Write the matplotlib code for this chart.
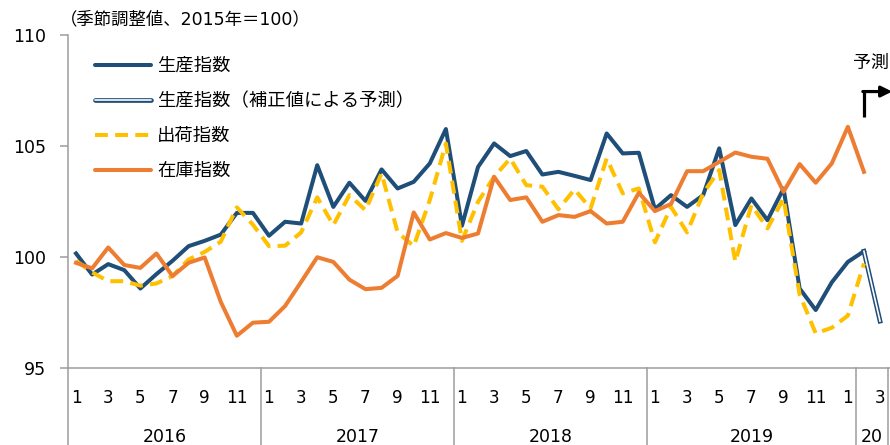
import numpy as np
import matplotlib
matplotlib.use('Agg')
import matplotlib.pyplot as plt
from matplotlib.lines import Line2D

plt.rcParams['font.family'] = ['DejaVu Sans', 'Noto Sans CJK JP']

# ---- data (monthly, Jan 2016 - Feb 2020) ----
production = [100.15, 99.2, 99.67, 99.4, 98.57, 99.22, 99.82, 100.48, 100.72, 101.0, 101.98, 101.98,
              100.95, 101.58, 101.5, 104.13, 102.25, 103.34, 102.52, 103.94, 103.08, 103.38, 104.21, 105.76,
              101.4, 104.05, 105.11, 104.54, 104.77, 103.71, 103.83, 103.65, 103.46, 105.56, 104.66, 104.69,
              102.15, 102.78, 102.25, 102.78, 104.89, 101.43, 102.63, 101.65, 103.08, 98.57, 97.6, 98.85,
              99.77, 100.25]
production_forecast = [100.25, 97.1]   # Feb 2020 -> Mar 2020 (forecast)
shipments = [99.82, 99.3, 98.9, 98.9, 98.7, 98.8, 99.13, 99.88, 100.22, 100.68, 102.23, 101.45,
             100.48, 100.5, 101.1, 102.68, 101.43, 102.78, 102.1, 103.76, 101.1, 100.48, 102.56, 105.11,
             100.72, 102.48, 103.61, 104.43, 103.23, 103.16, 102.14, 103.04, 102.18, 104.43, 102.86, 103.08,
             100.65, 102.25, 101.1, 102.86, 103.91, 99.78, 102.33, 101.28, 102.63, 98.3, 96.55, 96.8,
             97.35, 99.7]
inventory = [99.73, 99.48, 100.42, 99.63, 99.5, 100.15, 99.13, 99.73, 99.97, 97.97, 96.44, 97.03,
             97.07, 97.78, 98.87, 99.98, 99.77, 98.97, 98.54, 98.6, 99.14, 102.0, 100.78, 101.07,
             100.85, 101.05, 103.61, 102.56, 102.68, 101.58, 101.88, 101.8, 102.06, 101.5, 101.58, 102.89,
             102.06, 102.38, 103.86, 103.86, 104.28, 104.7, 104.51, 104.42, 102.93, 104.18, 103.34, 104.21,
             105.86, 103.83]
month_labels = ['1', '3', '5', '7', '9', '11'] * 4 + ['1', '3']
year_labels = ['2016', '2017', '2018', '2019', '20']
year_group_sizes = [12, 12, 12, 13, 2]
series_labels = ['生産指数', '生産指数（補正値による予測）', '出荷指数', '在庫指数']
unit_label = '（季節調整値、2015年＝100）'
forecast_label = '予測'

BLUE = '#1F4E79'
YELLOW = '#FFC000'
ORANGE = '#ED7D31'
GREY = '#9C9C9C'

W, H = 890, 445
fig = plt.figure(figsize=(W / 100, H / 100), dpi=100)
ax_left, ax_top, ax_bottom = 68, 35, 367.7
ax = fig.add_axes([ax_left / W, (H - ax_bottom) / H, 1 - ax_left / W, (ax_bottom - ax_top) / H])

x = np.arange(len(production))
xf = np.arange(len(production) - 1, len(production) - 1 + len(production_forecast))

ax.plot(x, production, color=BLUE, lw=2.9, zorder=3)
ax.plot(xf, production_forecast, color=BLUE, lw=3.4, zorder=3.5)
ax.plot(xf, production_forecast, color='white', lw=1.2, zorder=3.6)
ax.plot(x, shipments, color=YELLOW, lw=2.9, ls=(0, (3.2, 1.8)), zorder=4)
ax.plot(x, inventory, color=ORANGE, lw=2.9, zorder=5)

ax.set_xlim(-0.5, 50.62)
ax.set_ylim(95, 110)
ax.set_yticks([95, 100, 105, 110])
ax.set_xticks([])
for s in ['top', 'right']:
    ax.spines[s].set_visible(False)
for s in ['left', 'bottom']:
    ax.spines[s].set_color(GREY)
    ax.spines[s].set_linewidth(1.1)
ax.tick_params(axis='y', direction='out', length=6, width=1.1, color=GREY, pad=10, labelsize=12.5)

# month labels
xt = ax.get_xaxis_transform()
span = ax_bottom - ax_top
y_month = -(398 - ax_bottom) / span
y_year = -(437 - ax_bottom) / span
for i, lab in enumerate(month_labels):
    ax.text(2 * i, y_month, lab, transform=xt, ha='center', va='center', fontsize=12.2, clip_on=False)

# year groups
bounds = np.concatenate([[-0.5], -0.5 + np.cumsum(year_group_sizes)])
for b in bounds:
    ax.plot([b, b], [0, -0.3], transform=xt, color=GREY, lw=1.1, clip_on=False)
for i, lab in enumerate(year_labels):
    ax.text((bounds[i] + bounds[i + 1]) / 2, y_year, lab, transform=xt, ha='center', va='center',
            fontsize=12.5, clip_on=False)

# unit label
fig.text(60 / W, 1 - 19 / H, unit_label, ha='left', va='center', fontsize=12.5)

# forecast marker
x0 = len(production) - 1
ax.plot([x0, x0], [106.3, 107.45], color='black', lw=2.3, clip_on=False, solid_capstyle='butt', zorder=6)
ax.annotate('', xy=(50.75, 107.45), xytext=(x0 - 0.07, 107.45),
            arrowprops=dict(arrowstyle='-|>', lw=2.3, color='black', mutation_scale=16,
                            shrinkA=0, shrinkB=0), annotation_clip=False, zorder=6)
ax.text(48.3, 108.73, forecast_label, ha='left', va='center', fontsize=13, clip_on=False)

# legend
handles = [Line2D([], [], color=BLUE, lw=2.9, solid_capstyle='round'),
           (Line2D([], [], color=BLUE, lw=3.4, solid_capstyle='round'),
            Line2D([], [], color='white', lw=1.2, solid_capstyle='round')),
           Line2D([], [], color=YELLOW, lw=2.9, ls=(0, (3.2, 1.8))),
           Line2D([], [], color=ORANGE, lw=2.9, solid_capstyle='round')]
ax.legend(handles, series_labels, loc='upper left', bbox_to_anchor=(95 / W, 1 - 57 / H),
          bbox_transform=fig.transFigure, frameon=False, handlelength=3.05, handletextpad=0.35,
          labelspacing=0.93, fontsize=13.2, borderaxespad=0, borderpad=0)

fig.savefig('out.png', dpi=100)
